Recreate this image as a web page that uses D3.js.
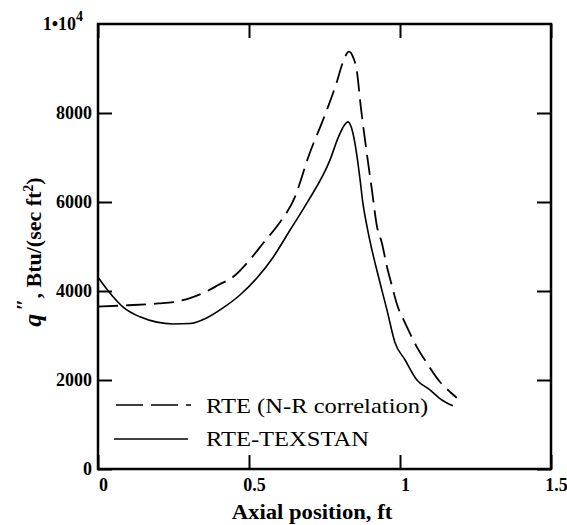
<!DOCTYPE html>
<meta charset="utf-8">
<style>
  body { margin: 0; background: #fff; }
  svg { font-family: "Liberation Serif", "Times New Roman", serif; }
</style>
<script src="https://cdn.jsdelivr.net/npm/d3@7"></script>
<div id="chart"></div>
<script>

    // values (axial position in ft, heat flux in Btu/(sec ft2))
    const nrX = [0, 0.1, 0.2, 0.25, 0.3, 0.35, 0.4, 0.45, 0.5, 0.55, 0.6, 0.65, 0.7, 0.75, 0.79, 0.81, 0.831, 0.845, 0.857, 0.87, 0.89, 0.907, 0.924, 0.94, 0.957, 0.97, 0.993, 1.017, 1.056, 1.089, 1.132, 1.166, 1.188];
    const nrQ = [3650, 3680, 3720, 3750, 3830, 3960, 4140, 4330, 4680, 5100, 5520, 6080, 7080, 7930, 8680, 9120, 9380, 9250, 8950, 8150, 7100, 6270, 5440, 5080, 4540, 4200, 3640, 3280, 2740, 2380, 1960, 1730, 1600];

    const texX = [0, 0.04, 0.083, 0.139, 0.195, 0.248, 0.305, 0.361, 0.414, 0.47, 0.526, 0.58, 0.636, 0.692, 0.768, 0.795, 0.815, 0.828, 0.844, 0.858, 0.868, 0.877, 0.891, 0.934, 0.957, 0.983, 1.017, 1.056, 1.099, 1.139, 1.175];
    const texQ = [4310, 3950, 3640, 3420, 3300, 3260, 3270, 3400, 3620, 3910, 4290, 4760, 5370, 5980, 6940, 7440, 7720, 7800, 7550, 7010, 6490, 5980, 5440, 4180, 3570, 2850, 2450, 2000, 1780, 1550, 1420];

    const xTicks = [0, 0.5, 1, 1.5];
    const xTickLabels = ["0", "0.5", "1", "1.5"];
    const yTicks = [0, 2000, 4000, 6000, 8000];
    const yTickLabels = ["0", "2000", "4000", "6000", "8000"];
    const seriesNames = ["RTE (N-R correlation)", "RTE-TEXSTAN"];

    // size of the page and the plot box
    const W = 567, H = 525;
    const margin = {top: 24, right: 16, bottom: 56, left: 98},
        width = W - margin.left - margin.right,
        height = H - margin.top - margin.bottom;

    const svg = d3.select("#chart")
        .append("svg")
        .attr("width", W)
        .attr("height", H);

    const g = svg.append("g")
        .attr("transform", `translate(${margin.left}, ${margin.top})`);

    const x = d3.scaleLinear().domain([0, 1.5]).range([0, width]);
    const y = d3.scaleLinear().domain([0, 10000]).range([height, 0]);

    // bottom axis, ticks pointing in
    g.append("g")
        .attr("transform", `translate(0, ${height})`)
        .call(d3.axisBottom(x).tickValues(xTicks).tickSize(-14).tickPadding(9)
            .tickFormat((d, i) => xTickLabels[i]))
        .call(a => a.select(".domain").remove())
        .call(a => a.selectAll("text").attr("dx", 5));

    // top axis (ticks only)
    g.append("g")
        .call(d3.axisTop(x).tickValues(xTicks).tickSize(-14).tickFormat(""))
        .call(a => a.select(".domain").remove());

    // left axis
    g.append("g")
        .call(d3.axisLeft(y).tickValues(yTicks).tickSize(-14).tickPadding(6)
            .tickFormat((d, i) => yTickLabels[i]))
        .call(a => a.select(".domain").remove());

    // right axis (ticks only)
    g.append("g")
        .attr("transform", `translate(${width}, 0)`)
        .call(d3.axisRight(y).tickValues(yTicks).tickSize(-14).tickFormat(""))
        .call(a => a.select(".domain").remove());

    g.selectAll(".tick line").attr("stroke", "#000").attr("stroke-width", 2);
    g.selectAll(".tick text")
        .attr("fill", "#000")
        .style("font-family", "'Liberation Serif', serif")
        .style("font-size", "18px")
        .style("font-weight", "bold");

    // top left label 1•10^4
    const topLab = g.append("text")
        .attr("x", -15)
        .attr("y", y(10000) + 6)
        .attr("text-anchor", "end")
        .style("font-size", "18px")
        .style("font-weight", "bold");
    topLab.append("tspan").text("1•10");
    topLab.append("tspan").attr("dy", -9).style("font-size", "14px").text("4");

    // frame
    g.append("rect")
        .attr("width", width)
        .attr("height", height)
        .attr("fill", "none")
        .attr("stroke", "#000")
        .attr("stroke-width", 2.5);

    const line = d3.line()
        .x(d => x(d[0]))
        .y(d => y(d[1]))
        .curve(d3.curveMonotoneX);

    g.append("path")
        .datum(nrX.map((v, i) => [v, nrQ[i]]))
        .attr("d", line)
        .attr("fill", "none")
        .attr("stroke", "#000")
        .attr("stroke-width", 1.8)
        .attr("stroke-dasharray", "20,8");

    g.append("path")
        .datum(texX.map((v, i) => [v, texQ[i]]))
        .attr("d", line)
        .attr("fill", "none")
        .attr("stroke", "#000")
        .attr("stroke-width", 1.6);

    // legend
    const legend = svg.append("g");
    legend.append("line")
        .attr("x1", 116).attr("x2", 191).attr("y1", 405).attr("y2", 405)
        .attr("stroke", "#000").attr("stroke-width", 1.6)
        .attr("stroke-dasharray", "27,8");
    legend.append("line")
        .attr("x1", 114).attr("x2", 188).attr("y1", 439).attr("y2", 439)
        .attr("stroke", "#000").attr("stroke-width", 1.6);
    // the scanned text is a bit wider than Times, so stretch it sideways
    legend.selectAll("text.leg")
        .data(seriesNames)
        .join("text")
        .attr("class", "leg")
        .attr("transform", (d, i) => `translate(206, ${413 + i * 33}) scale(1.17, 1)`)
        .style("font-size", "21px")
        .text(d => d);

    // axis titles
    svg.append("text")
        .attr("transform", "translate(312, 519) scale(1.08, 1)")
        .attr("text-anchor", "middle")
        .style("font-size", "21px")
        .style("font-weight", "bold")
        .text("Axial position, ft");

    const yt = svg.append("text")
        .attr("transform", "translate(41, 252) rotate(-90)")
        .attr("text-anchor", "middle")
        .style("font-size", "22px")
        .style("font-weight", "bold");
    yt.append("tspan").style("font-style", "italic").style("font-size", "26px").text("q");
    yt.append("tspan").attr("dy", -10).attr("dx", 3).text("″");
    yt.append("tspan").attr("dy", 10).text(", Btu/(sec ft");
    yt.append("tspan").attr("dy", -8).style("font-size", "14px").text("2");
    yt.append("tspan").attr("dy", 8).text(")");

</script>
